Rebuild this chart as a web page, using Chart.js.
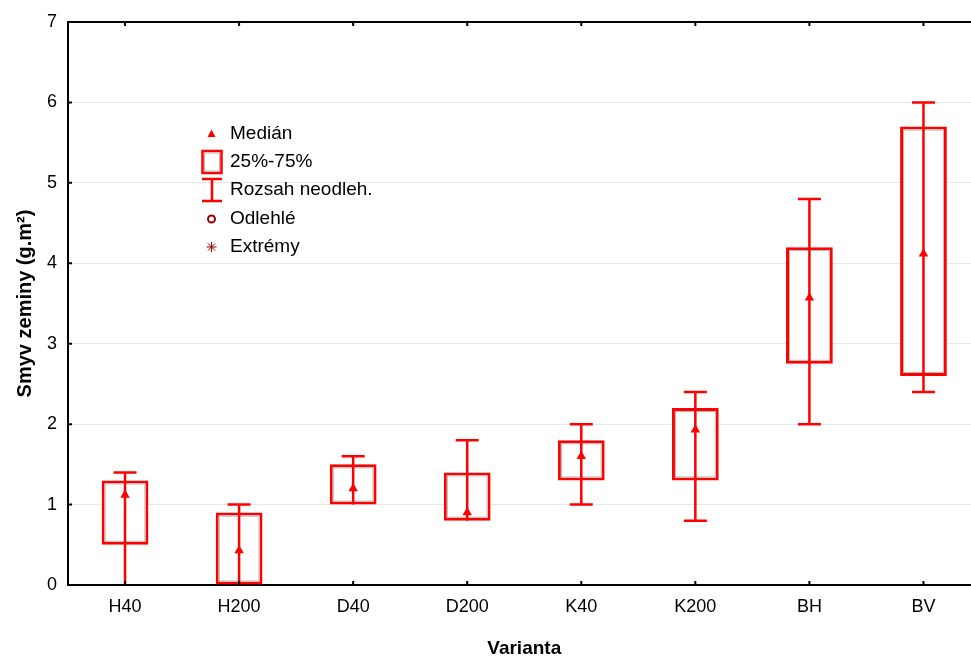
<!DOCTYPE html>
<html>
<head>
<meta charset="utf-8">
<script src="https://cdn.jsdelivr.net/npm/chart.js@4.4.1/dist/chart.umd.min.js"></script>
<style>
html, body { margin:0; padding:0; background:#fff; overflow:hidden; }
#obal { width:986px; height:657px; }
</style>
</head>
<body>
<div id="obal"><canvas id="grafSmyv" width="986" height="657"></canvas></div>
<script>
// hodnoty
var varianty = ['H40', 'H200', 'D40', 'D200', 'K40', 'K200', 'BH', 'BV'];
var median = [1.12, 0.43, 1.2, 0.9, 1.6, 1.93, 3.57, 4.12];
var kvartil25 = [0.5, 0, 1.0, 0.8, 1.3, 1.3, 2.75, 2.6];
var kvartil75 = [1.3, 0.9, 1.5, 1.4, 1.8, 2.2, 4.2, 5.7];
var rozsahMin = [0, 0, 1.0, 0.8, 1.0, 0.8, 2.0, 2.4];
var rozsahMax = [1.4, 1.0, 1.6, 1.8, 2.0, 2.4, 4.8, 6.0];
var legendaTexty = ['Medián', '25%-75%', 'Rozsah neodleh.', 'Odlehlé', 'Extrémy'];

var CERVENA = '#ff0000';
var TMAVE = '#990000';
var PISMO = '"Liberation Sans", Arial, sans-serif';

// whiskery + sedy vnitrni okraj krabic
var krabicePlugin = {
  id: 'krabice',
  afterDatasetDraw: function(chart, args) {
    if (args.index !== 0) return;
    var ctx = chart.ctx;
    var ys = chart.scales.y;
    var bw = 3;
    ctx.save();
    args.meta.data.forEach(function(el, i) {
      var p = el.getProps(['x', 'y', 'base', 'width'], true);
      var top = Math.min(p.y, p.base), bot = Math.max(p.y, p.base);
      ctx.strokeStyle = '#b4b4b4';
      ctx.lineWidth = 1;
      ctx.strokeRect(p.x - p.width / 2 + bw + 0.5, top + bw + 0.5, p.width - 2 * bw - 1, bot - top - 2 * bw - 1);

      var yLo = ys.getPixelForValue(rozsahMin[i]);
      var yHi = ys.getPixelForValue(rozsahMax[i]);
      ctx.strokeStyle = CERVENA;
      ctx.lineWidth = 2.5;
      ctx.beginPath();
      ctx.moveTo(p.x, yLo); ctx.lineTo(p.x, yHi);
      ctx.moveTo(p.x - 11.5, yHi); ctx.lineTo(p.x + 11.5, yHi);
      if (rozsahMin[i] > 0 && rozsahMin[i] !== kvartil25[i]) {
        ctx.moveTo(p.x - 11.5, yLo); ctx.lineTo(p.x + 11.5, yLo);
      }
      ctx.stroke();
    });
    ctx.restore();
  },
  afterDraw: function(chart) {
    var ctx = chart.ctx;
    var a = chart.chartArea;
    var xs = chart.scales.x, ys = chart.scales.y;
    ctx.save();
    // horni ramecek
    ctx.strokeStyle = '#000';
    ctx.lineWidth = 2;
    ctx.beginPath();
    ctx.moveTo(a.left - 1, a.top); ctx.lineTo(a.right, a.top);
    ctx.stroke();
    // ticky dovnitr
    ctx.beginPath();
    varianty.forEach(function(v, i) {
      var x = xs.getPixelForValue(i);
      ctx.moveTo(x, a.top); ctx.lineTo(x, a.top + 4);
      ctx.moveTo(x, a.bottom); ctx.lineTo(x, a.bottom - 4);
    });
    for (var t = 1; t < 7; t++) {
      var y = ys.getPixelForValue(t);
      ctx.moveTo(a.left, y); ctx.lineTo(a.left + 4, y);
    }
    ctx.stroke();

    // legenda
    var lx = 211.5;
    var rady = [134, 162, 190, 219, 247];
    ctx.fillStyle = CERVENA;
    ctx.beginPath();
    ctx.moveTo(lx, rady[0] - 4.5); ctx.lineTo(lx + 4, rady[0] + 3); ctx.lineTo(lx - 4, rady[0] + 3);
    ctx.closePath(); ctx.fill();

    ctx.strokeStyle = CERVENA; ctx.lineWidth = 2.5;
    ctx.strokeRect(202.5, rady[1] - 11, 19, 22);
    ctx.strokeStyle = '#b4b4b4'; ctx.lineWidth = 1;
    ctx.strokeRect(204.5, rady[1] - 9, 15, 18);

    ctx.strokeStyle = CERVENA; ctx.lineWidth = 2.5;
    ctx.beginPath();
    ctx.moveTo(202, rady[2] - 11); ctx.lineTo(222, rady[2] - 11);
    ctx.moveTo(202, rady[2] + 11); ctx.lineTo(222, rady[2] + 11);
    ctx.moveTo(212, rady[2] - 11); ctx.lineTo(212, rady[2] + 11);
    ctx.stroke();

    ctx.strokeStyle = TMAVE; ctx.lineWidth = 2;
    ctx.beginPath(); ctx.arc(lx, rady[3], 3.5, 0, Math.PI * 2); ctx.stroke();

    ctx.lineWidth = 1;
    ctx.beginPath();
    for (var k = 0; k < 4; k++) {
      var ang = k * Math.PI / 4;
      ctx.moveTo(lx - 5 * Math.cos(ang), rady[4] - 5 * Math.sin(ang));
      ctx.lineTo(lx + 5 * Math.cos(ang), rady[4] + 5 * Math.sin(ang));
    }
    ctx.stroke();

    ctx.fillStyle = '#000';
    ctx.font = '19px ' + PISMO;
    ctx.textBaseline = 'middle';
    ctx.textAlign = 'left';
    legendaTexty.forEach(function(txt, i) { ctx.fillText(txt, 230, rady[i]); });
    ctx.restore();
  }
};

new Chart(document.getElementById('grafSmyv'), {
  type: 'bar',
  data: {
    labels: varianty,
    datasets: [
      {
        label: '25%-75%',
        data: varianty.map(function(v, i) { return [kvartil25[i], kvartil75[i]]; }),
        backgroundColor: '#ffffff',
        borderColor: CERVENA,
        borderWidth: 3,
        borderSkipped: false,
        barPercentage: 0.41,
        categoryPercentage: 1,
        order: 2
      },
      {
        type: 'line',
        label: 'Medián',
        data: median,
        showLine: false,
        pointStyle: 'triangle',
        pointRadius: 5.5,
        pointBackgroundColor: CERVENA,
        pointBorderColor: CERVENA,
        pointBorderWidth: 0,
        order: 1
      }
    ]
  },
  options: {
    responsive: false,
    animation: false,
    events: [],
    layout: { padding: { top: 22, right: 0, left: 0, bottom: 0 } },
    plugins: { legend: { display: false }, tooltip: { enabled: false } },
    scales: {
      x: {
        offset: true,
        grid: { display: false, drawTicks: false },
        border: { color: '#000', width: 2 },
        ticks: { color: '#000', font: { family: PISMO, size: 18 }, padding: 11, maxRotation: 0 },
        title: { display: true, text: 'Varianta', color: '#000', font: { family: PISMO, size: 19, weight: 'bold', lineHeight: 0.9 }, padding: { top: 0, bottom: 0 } },
        afterFit: function(s) { s.height = 72; }
      },
      y: {
        min: 0, max: 7,
        grid: { color: '#e8e8e8', lineWidth: 1, drawTicks: false },
        border: { color: '#000', width: 2 },
        ticks: { stepSize: 1, color: '#000', font: { family: PISMO, size: 18 }, padding: 11 },
        title: { display: true, text: 'Smyv zeminy (g.m²)', color: '#000', font: { family: PISMO, size: 20, weight: 'bold', lineHeight: 0.9 }, padding: { top: 16, bottom: 0 } },
        afterFit: function(s) { s.width = 68; }
      }
    }
  },
  plugins: [krabicePlugin]
});
</script>
</body>
</html>
